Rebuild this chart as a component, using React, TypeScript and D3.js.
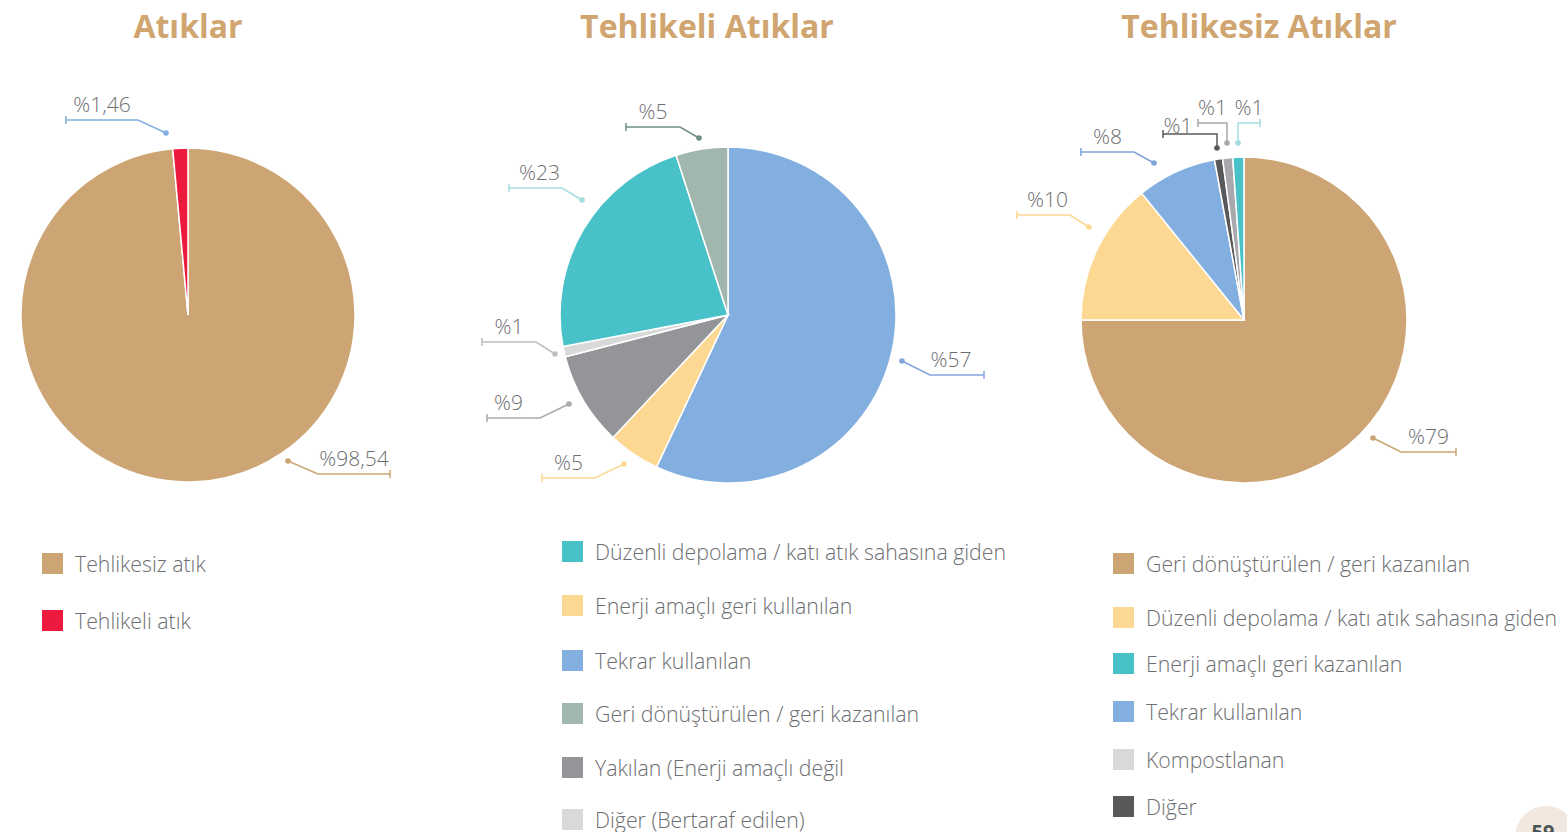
import React, { useEffect, useRef } from 'react';
import * as d3 from 'd3';

// --- Atıklar ---
const wasteNames = ["Tehlikesiz atık", "Tehlikeli atık"];
const wasteValues = [98.54, 1.46];
const wasteColors = ["#CDA574", "#EC1B3D"];
const wastePctLabels = ["%98,54", "%1,46"];

// --- Tehlikeli Atıklar (slices clockwise from 12 o'clock) ---
const hazSliceNames = ["Tekrar kullanılan", "Enerji amaçlı geri kullanılan", "Yakılan (Enerji amaçlı değil", "Diğer (Bertaraf edilen)", "Düzenli depolama / katı atık sahasına giden", "Geri dönüştürülen / geri kazanılan"];
const hazValues = [57, 5, 9, 1, 23, 5];
const hazColors = ["#82AFDF", "#FDD893", "#939598", "#D9D9D9", "#48C1C8", "#A1B7AD"];
const hazPctLabels = ["%57", "%5", "%9", "%1", "%23", "%5"];
const hazLegendNames = ["Düzenli depolama / katı atık sahasına giden", "Enerji amaçlı geri kullanılan", "Tekrar kullanılan", "Geri dönüştürülen / geri kazanılan", "Yakılan (Enerji amaçlı değil", "Diğer (Bertaraf edilen)"];
const hazLegendColors = ["#48C1C8", "#FDD893", "#82AFDF", "#A1B7AD", "#939598", "#D9D9D9"];

// --- Tehlikesiz Atıklar ---
const nonHazSliceNames = ["Geri dönüştürülen / geri kazanılan", "Düzenli depolama / katı atık sahasına giden", "Tekrar kullanılan", "Diğer", "Kompostlanan", "Enerji amaçlı geri kazanılan"];
const nonHazValues = [75, 14.2, 7.9, 0.8, 1, 1.1];
const nonHazColors = ["#CDA574", "#FDD893", "#82AFDF", "#58595B", "#A7A9AC", "#48C1C8"];
const nonHazPctLabels = ["%79", "%10", "%8", "%1", "%1", "%1"];
const nonHazLegendNames = ["Geri dönüştürülen / geri kazanılan", "Düzenli depolama / katı atık sahasına giden", "Enerji amaçlı geri kazanılan", "Tekrar kullanılan", "Kompostlanan", "Diğer"];
const nonHazLegendColors = ["#CDA574", "#FDD893", "#48C1C8", "#82AFDF", "#D9D9D9", "#58595B"];

type Callout = { color: string; dot: [number, number]; bend: [number, number]; len: number; tx?: number; ty?: number };

const wasteCallouts: Callout[] = [
    { color: "#CDA574", dot: [100, 146], bend: [30, 13], len: 72 },
    { color: "#82AFDF", dot: [-22, -182], bend: [-28, -13], len: -72 },
];
const hazCallouts: Callout[] = [
    { color: "#82A6DB", dot: [174, 46], bend: [28, 14], len: 54, tx: -6 },
    { color: "#FDD893", dot: [-104, 149], bend: [-29, 14], len: -53 },
    { color: "#A9AAAD", dot: [-159, 89], bend: [-29, 14], len: -53, tx: -5 },
    { color: "#BDBEC0", dot: [-173, 39], bend: [-19, -12], len: -54 },
    { color: "#A5DDE1", dot: [-146, -115], bend: [-20, -12], len: -53, tx: 4 },
    { color: "#6E8F86", dot: [-29, -177], bend: [-19, -11], len: -54 },
];
const nonHazCallouts: Callout[] = [
    { color: "#CDA574", dot: [129, 118], bend: [28, 14], len: 55 },
    { color: "#FDD893", dot: [-155, -93], bend: [-19, -12], len: -53, tx: 4 },
    { color: "#7FA3D8", dot: [-90, -157], bend: [-20, -11], len: -53 },
    { color: "#58595B", dot: [-27, -172], bend: [0, -14], len: -54, tx: -12, ty: 1 },
    { color: "#A7A9AC", dot: [-17, -177], bend: [0, -20], len: -29 },
    { color: "#A3DDE1", dot: [-6, -177], bend: [0, -20], len: 22 },
];

const charts = [
    { title: "Atıklar", titleX: 188, cx: 188, cy: 315, r: 167, values: wasteValues, colors: wasteColors, pct: wastePctLabels, callouts: wasteCallouts,
        legend: wasteNames, legendColors: wasteColors, legendX: 42, legendY: [553, 610] },
    { title: "Tehlikeli Atıklar", titleX: 707, cx: 728, cy: 315, r: 168, values: hazValues, colors: hazColors, pct: hazPctLabels, callouts: hazCallouts,
        legend: hazLegendNames, legendColors: hazLegendColors, legendX: 562, legendY: [541, 595, 650, 703, 757, 809] },
    { title: "Tehlikesiz Atıklar", titleX: 1259, cx: 1244, cy: 320, r: 163, values: nonHazValues, colors: nonHazColors, pct: nonHazPctLabels, callouts: nonHazCallouts,
        legend: nonHazLegendNames, legendColors: nonHazLegendColors, legendX: 1113, legendY: [553, 607, 653, 701, 749, 796] },
];

const App = () => {
    const svgRef = useRef<SVGSVGElement>(null);

    useEffect(() => {
        const svg = d3.select(svgRef.current);
        svg.selectAll("*").remove();

        const pie = d3.pie<number>().sort(null).value((d) => d);

        charts.forEach((c) => {
            const g = svg.append("g");

            g.append("text")
                .attr("x", c.titleX)
                .attr("y", 38)
                .attr("text-anchor", "middle")
                .style("font-family", "'Open Sans'")
                .style("font-weight", 700)
                .style("font-size", "32px")
                .attr("fill", "#D0A570")
                .text(c.title);

            const arc = d3.arc<d3.PieArcDatum<number>>().innerRadius(0).outerRadius(c.r);
            const pg = g.append("g").attr("transform", `translate(${c.cx},${c.cy})`);

            pg.selectAll("path")
                .data(pie(c.values))
                .enter()
                .append("path")
                .attr("d", arc)
                .attr("fill", (d, i) => c.colors[i])
                .attr("stroke", "#fff")
                .attr("stroke-width", 1.5);

            // leader lines + percentage labels
            c.callouts.forEach((co, i) => {
                const [x0, y0] = co.dot;
                const x1 = x0 + co.bend[0];
                const y1 = y0 + co.bend[1];
                const x2 = x1 + co.len;
                pg.append("path")
                    .attr("d", `M${x0},${y0}L${x1},${y1}L${x2},${y1}M${x2},${y1 - 4}L${x2},${y1 + 4}`)
                    .attr("fill", "none")
                    .attr("stroke", co.color)
                    .attr("stroke-width", 1.5);
                pg.append("circle")
                    .attr("cx", x0)
                    .attr("cy", y0)
                    .attr("r", 2.8)
                    .attr("fill", co.color);
                pg.append("text")
                    .attr("x", (x1 + x2) / 2 + (co.tx || 0))
                    .attr("y", y1 - (co.ty === undefined ? 8 : co.ty))
                    .attr("text-anchor", "middle")
                    .style("font-family", "'Open Sans'")
                    .style("font-weight", 300)
                    .style("font-size", "21px")
                    .attr("fill", "#6D6E71")
                    .text(c.pct[i]);
            });

            // legend
            c.legend.forEach((name, i) => {
                const y = c.legendY[i];
                g.append("rect")
                    .attr("x", c.legendX)
                    .attr("y", y)
                    .attr("width", 21)
                    .attr("height", 21)
                    .attr("fill", c.legendColors[i]);
                g.append("text")
                    .attr("x", c.legendX + 33)
                    .attr("y", y + 19)
                    .style("font-family", "'Open Sans'")
                    .style("font-weight", 300)
                    .style("font-size", "21.3px")
                    .attr("fill", "#6D6E71")
                    .text(name);
            });
        });

        // page number
        svg.append("circle").attr("cx", 1546).attr("cy", 837).attr("r", 31).attr("fill", "#F2E8DF");
        svg.append("text")
            .attr("x", 1543)
            .attr("y", 839)
            .attr("text-anchor", "middle")
            .style("font-family", "'Open Sans'")
            .style("font-weight", 700)
            .style("font-size", "20px")
            .attr("fill", "#4B5558")
            .text("59");
    }, []);

    return (
        <svg ref={svgRef} width={1567} height={832} style={{ position: "absolute", left: 0, top: 0, background: "#fff" }} />
    );
};

export default App;
